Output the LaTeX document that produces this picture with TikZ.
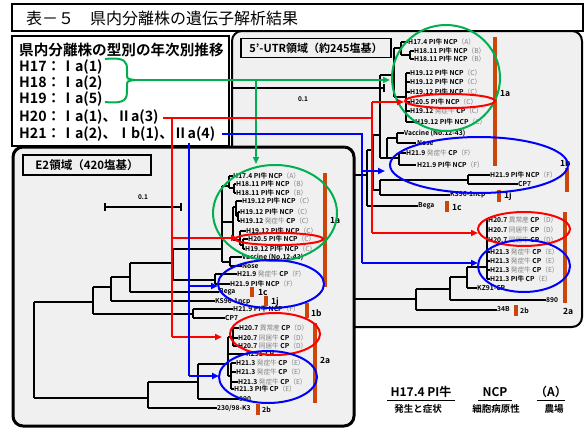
\documentclass[tikz,border=0pt]{standalone}
\usepackage{fontspec}
\setmainfont{Noto Sans CJK JP}[BoldFont={* Bold}]
\usetikzlibrary{arrows.meta}
\definecolor{gr}{RGB}{0,176,80}
\definecolor{rd}{RGB}{255,0,0}
\definecolor{bl}{RGB}{0,0,255}
\definecolor{barc}{RGB}{204,70,10}
\definecolor{panel}{RGB}{240,240,240}
\newcounter{nn}
\newcommand\lab[3]{\stepcounter{nn}\node[lbl] (n\thenn) at (#1,#2) {#3};}
\newcommand\gp[1]{{\mdseries\color{black!50}#1}}
\newcommand\hl[3]{\draw[tr] (#1,#3) -- (#2,#3);}
\newcommand\vl[3]{\draw[tr] (#1,#2) -- (#1,#3);}
\begin{document}
\begin{tikzpicture}[x=1pt,y=-1pt,
  tr/.style={line width=1.1pt,black},
  lbl/.style={anchor=west,inner sep=0pt,font=\bfseries\fontsize{6.7}{7}\selectfont},
  bars/.style={line width=4pt,draw=barc},
  barl/.style={anchor=west,inner sep=0pt,font=\bfseries\fontsize{8.5}{9}\selectfont},
  cl/.style={line width=2pt},
  arr/.style={-{Triangle[length=7pt,width=6pt]}},
  leg/.style={anchor=west,inner sep=0pt,font=\bfseries\fontsize{14.2}{15}\selectfont},
]
\useasboundingbox (0,0) rectangle (584,434);
\fill[white] (0,0) rectangle (584,434);
% title
\draw[line width=1.5pt] (12,4) rectangle (583,31);
\node[anchor=west,inner sep=0pt,font=\fontsize{16}{17}\selectfont] (title) at (26,18) {表－５　県内分離株の遺伝子解析結果};
% ================= right panel =================
\draw[line width=2pt,fill=panel,rounded corners=10pt] (232,31) rectangle (582,327);
\node[draw,line width=1.2pt,fill=panel,inner sep=3pt,minimum width=150pt,minimum height=19pt,font=\bfseries\fontsize{11}{12}\selectfont] (utr) at (316,48) {5’-UTR領域（約245塩基）};
\draw[tr] (232,88) -- (384,88); \draw[tr] (232,84) -- (232,92); \draw[tr] (384,84) -- (384,92);
\node[inner sep=0pt,font=\bfseries\fontsize{6.5}{7}\selectfont] (sc1) at (303,99) {0.1};
% right tree
\hl{345}{416}{299}\vl{345}{175}{299}\hl{345}{367}{175}
\vl{367}{150}{206}\hl{367}{418}{206}\hl{367}{373}{150}
\vl{373}{135}{190}\hl{373}{380}{190}\hl{373}{380}{135}
\vl{380}{180}{195}\hl{380}{468}{180}\hl{380}{450}{195}
\vl{468}{175}{184}\hl{468}{490}{175}\hl{468}{518}{184}
\vl{380}{75}{158}\hl{380}{394}{75}\hl{380}{387}{158}
\vl{387}{138}{158}\hl{387}{397}{138}\vl{397}{133}{143}\hl{397}{404}{133}\hl{397}{416}{143}
\hl{387}{399}{158}\vl{399}{153}{165}\hl{399}{406}{153}\hl{399}{416}{165}
\vl{394}{48}{97}\hl{394}{401}{48}\vl{401}{42}{55}\hl{401}{408}{42}\hl{401}{410}{55}
\vl{410}{51}{59}\hl{410}{414}{51}\hl{410}{414}{59}
\hl{394}{406}{97}\vl{406}{73}{122}
\hl{406}{410}{73}\hl{406}{410}{82}\hl{406}{410}{92}\hl{406}{410}{102}\hl{406}{410}{111}\hl{406}{415}{122}
\vl{416}{289}{310}\hl{416}{497}{310}\hl{416}{450}{289}
\vl{450}{277}{300}\hl{450}{546}{300}\hl{450}{467}{277}
\vl{467}{267}{288}\hl{467}{477}{288}\hl{467}{487}{267}
\vl{487}{220}{279}
\hl{487}{488}{220}\hl{487}{488}{230}\hl{487}{488}{240}\hl{487}{490}{252}\hl{487}{490}{261}\hl{487}{490}{270}\hl{487}{490}{279}
% right labels
\lab{408}{42}{H17.4 PI牛 NCP\gp{（A）}}
\lab{414}{51}{H18.11 PI牛 NCP\gp{（B）}}
\lab{414}{59}{H18.11 PI牛 NCP\gp{（B）}}
\lab{410}{73}{H19.12 PI牛 NCP\gp{（C）}}
\lab{410}{82}{H19.12 PI牛 NCP\gp{（C）}}
\lab{410}{92}{H19.12 PI牛 NCP\gp{（C）}}
\lab{410}{102}{H20.5 PI牛 NCP\gp{（C）}}
\lab{410}{111}{H19.12 \gp{発症牛} CP\gp{（C）}}
\lab{415}{122}{H19.12 PI牛 NCP\gp{（C）}}
\lab{404}{133}{Vaccine (No.12-43)}
\lab{417}{143}{Nose}
\lab{406}{153}{H21.9 \gp{発症牛} CP\gp{（F）}}
\lab{417}{165}{H21.9 PI牛 NCP\gp{（F）}}
\lab{490}{175}{H21.9 PI牛 NCP\gp{（F）}}
\lab{518}{184}{CP7}
\lab{450}{195}{KS96-1ncp}
\lab{418}{206}{Bega}
\lab{488}{220}{H20.7 \gp{異常産} CP\gp{（D）}}
\lab{488}{230}{H20.7 \gp{同居牛} CP\gp{（D）}}
\lab{488}{240}{H20.7 \gp{同居牛} CP\gp{（D）}}
\lab{490}{252}{H21.3 \gp{発症牛} CP\gp{（E）}}
\lab{490}{261}{H21.3 \gp{発症牛} CP\gp{（E）}}
\lab{490}{270}{H21.3 \gp{発症牛} CP\gp{（E）}}
\lab{490}{279}{H21.3 PI牛 CP\gp{（E）}}
\lab{477}{288}{KZ91-CP}
\lab{546}{300}{890}
\lab{497}{309}{34B}
% right bars
\draw[bars] (495,37) -- (495,166); \node[barl] (r1a) at (500,93) {1a};
\draw[bars] (567,168) -- (567,192); \node[barl] (r1b) at (560,163) {1b};
\draw[bars] (499,190) -- (499,202); \node[barl] (r1j) at (504,196) {1j};
\draw[bars] (447,201) -- (447,212); \node[barl] (r1c) at (452,207) {1c};
\draw[bars] (565,212) -- (565,303); \node[barl] (r2a) at (563,311) {2a};
\draw[bars] (516,305) -- (516,316); \node[barl,font=\bfseries\fontsize{7}{8}\selectfont] (r2b) at (520,311) {2b};
% ================= legend box =================
\draw[line width=1.5pt,fill=white] (12,36) rectangle (229,146);
\node[leg,font=\bfseries\fontsize{14.6}{15}\selectfont] (lh) at (19,50) {県内分離株の型別の年次別推移};
\node[leg] (l17) at (19,67) {H17：Ⅰa(1)};
\node[leg] (l18) at (19,83) {H18：Ⅰa(2)};
\node[leg] (l19) at (19,99) {H19：Ⅰa(5)};
\node[leg] (l20) at (19,117) {H20：Ⅰa(1)、Ⅱa(3)};
\node[leg] (l21) at (19,134) {H21：Ⅰa(2)、Ⅰb(1)、Ⅱa(4)};
% ================= E2 panel =================
\draw[line width=3pt,fill=panel,rounded corners=10pt] (13,147) rectangle (354,426);
\node[draw,line width=1.2pt,fill=panel,inner sep=3pt,minimum width=128pt,minimum height=20pt,font=\bfseries\fontsize{11.5}{12}\selectfont] (e2) at (87,165) {E2領域（420塩基）};
\draw[tr] (105,207) -- (181,207); \draw[tr] (105,203) -- (105,211); \draw[tr] (181,203) -- (181,211);
\node[inner sep=0pt,font=\bfseries\fontsize{6.5}{7}\selectfont] (sc2) at (143,197) {0.1};
% left tree
\vl{34}{302}{398}\hl{34}{93}{302}\vl{93}{287}{314}
\hl{93}{111}{287}\vl{111}{277}{301}
\hl{111}{130}{277}\vl{130}{263}{292}
\hl{130}{173}{263}\vl{173}{249}{280}
\hl{173}{222}{249}\vl{222}{186}{262}
\hl{222}{229}{186}\vl{229}{176}{188}\hl{229}{233}{176}\hl{229}{234}{188}\vl{234}{184}{193}\hl{234}{236}{184}\hl{234}{236}{193}
\hl{222}{233}{222}\vl{233}{207}{240}
\hl{233}{236}{207}\vl{236}{201}{216}\hl{236}{242}{201}\hl{236}{238}{216}\vl{238}{212}{221}\hl{238}{240}{212}\hl{238}{240}{221}
\hl{233}{240}{240}\vl{240}{231}{245}\hl{240}{246}{231}\hl{240}{243}{245}\vl{243}{239}{249}\hl{243}{248}{239}\hl{243}{245}{249}
\hl{222}{230}{262}\vl{230}{257}{266}\hl{230}{242}{257}\hl{230}{242}{266}
\hl{173}{215}{280}\vl{215}{274}{284}\hl{215}{237}{274}\hl{215}{230}{284}
\hl{130}{219}{292}
\hl{111}{215}{301}
\hl{93}{193}{314}\vl{193}{309}{318}\hl{193}{233}{309}\hl{193}{225}{318}
\hl{34}{148}{398}\vl{148}{382}{408}\hl{148}{217}{408}\hl{148}{198}{382}
\vl{198}{364}{399}\hl{198}{239}{399}\hl{198}{228}{364}
\vl{228}{337}{376}\hl{228}{233}{337}\vl{233}{328}{346}\hl{233}{239}{328}\hl{233}{238}{338}\hl{233}{238}{346}
\hl{228}{246}{354}\hl{228}{231}{376}\vl{231}{363}{389}
\hl{231}{236}{363}\hl{231}{236}{372}\hl{231}{238}{382}\hl{231}{234}{389}
% left labels
\lab{233}{176}{H17.4 PI牛 NCP\gp{（A）}}
\lab{236}{184}{H18.11 PI牛 NCP\gp{（B）}}
\lab{236}{193}{H18.11 PI牛 NCP\gp{（B）}}
\lab{242}{201}{H19.12 PI牛 NCP\gp{（C）}}
\lab{240}{212}{H19.12 PI牛 NCP\gp{（C）}}
\lab{240}{221}{H19.12 \gp{発症牛} CP\gp{（C）}}
\lab{246}{231}{H19.12 PI牛 NCP\gp{（C）}}
\lab{248}{239}{H20.5 PI牛 NCP\gp{（C）}}
\lab{245}{249}{H19.12 PI牛 NCP\gp{（C）}}
\lab{242}{257}{Vaccine (No.12-43)}
\lab{242}{266}{Nose}
\lab{237}{274}{H21.9 \gp{発症牛} CP\gp{（F）}}
\lab{230}{284}{H21.9 PI牛 NCP\gp{（F）}}
\lab{219}{292}{Bega}
\lab{215}{302}{KS96-1ncp}
\lab{233}{309}{H21.9 PI牛 NCP\gp{（F）}}
\lab{225}{318}{CP7}
\lab{239}{328}{H20.7 \gp{異常産} CP\gp{（D）}}
\lab{238}{338}{H20.7 \gp{同居牛} CP\gp{（D）}}
\lab{238}{346}{H20.7 \gp{同居牛} CP\gp{（D）}}
\lab{246}{354}{KZ91-CP}
\lab{236}{363}{H21.3 \gp{発症牛} CP\gp{（E）}}
\lab{236}{372}{H21.3 \gp{発症牛} CP\gp{（E）}}
\lab{238}{382}{H21.3 \gp{発症牛} CP\gp{（E）}}
\lab{234}{389}{H21.3 PI牛 CP\gp{（E）}}
\lab{239}{399}{890}
\lab{217}{408}{230/98-K3}
% left bars
\draw[bars] (325,173) -- (325,287); \node[barl] (l1a) at (330,220) {1a};
\draw[bars] (252,287) -- (252,297); \node[barl] (l1c) at (258,292) {1c};
\draw[bars] (266,296) -- (266,306); \node[barl] (l1j) at (271,302) {1j};
\draw[bars] (307,303) -- (307,318); \node[barl] (l1b) at (311,313) {1b};
\draw[bars] (315,323) -- (315,403); \node[barl] (l2a) at (320,360) {2a};
\draw[bars] (258,404) -- (258,415); \node[barl,font=\bfseries\fontsize{7}{8}\selectfont] (l2b) at (262,410) {2b};
% ================= ellipses =================
\draw[gr,cl] (446,78) ellipse [x radius=54, y radius=53];
\draw[rd,cl] (450,101) ellipse [x radius=45, y radius=7];
\draw[bl,cl] (479,165) ellipse [x radius=89, y radius=28];
\draw[rd,cl] (524,229) ellipse [x radius=46, y radius=17];
\draw[bl,cl] (524,266) ellipse [x radius=46, y radius=26];
\draw[gr,cl] (275,213) ellipse [x radius=62, y radius=48];
\draw[rd,cl] (279,239) ellipse [x radius=44, y radius=6];
\draw[bl,cl] (271,284) ellipse [x radius=53, y radius=24];
\draw[rd,cl] (275,334) ellipse [x radius=45, y radius=21];
\draw[bl,cl] (268,377) ellipse [x radius=49, y radius=26];
% ================= connectors =================
\coordinate (gtip) at (135,80);
\coordinate (gj) at (256,80);
\draw[gr,cl] (105,59) .. controls (126,57) and (127,62) .. (127,70) -- (127,74) .. controls (127,79) .. (gtip);
\draw[gr,cl] (105,102) .. controls (126,104) and (127,99) .. (127,90) -- (127,86) .. controls (127,81) .. (gtip);
\draw[gr,cl,arr] (gtip) -- (390,80);
\draw[gr,cl,arr] (gj) -- (256,164);
\coordinate (rs) at (163,118);
\coordinate (rj1) at (172,118);
\coordinate (rj2) at (372,118);
\draw[rd,cl] (rs) -- (rj2);
\draw[rd,cl] (372,102) -- (372,233);
\draw[rd,cl,arr] (372,102) -- (404,102);
\draw[rd,cl,arr] (372,233) -- (478,233);
\draw[rd,cl] (rj1) -- (172,337);
\draw[rd,cl,arr] (172,238) -- (238,238);
\draw[rd,cl,arr] (172,337) -- (222,337);
\coordinate (bs) at (222,134);
\draw[bl,cl] (bs) -- (362,134) -- (362,263);
\draw[bl,cl,arr] (362,171) -- (385,171);
\draw[bl,cl,arr] (362,263) -- (478,263);
\draw[bl,cl] (189,143) -- (189,376);
\draw[bl,cl,arr] (189,286) -- (218,286);
\draw[bl,cl,arr] (189,376) -- (219,376);
% ================= bottom legend =================
\node[inner sep=0pt,font=\bfseries\fontsize{12}{13}\selectfont] (k1) at (421,392) {H17.4 PI牛};
\node[inner sep=0pt,font=\bfseries\fontsize{12}{13}\selectfont] (k2) at (495,392) {NCP};
\node[inner sep=0pt,font=\bfseries\fontsize{12}{13}\selectfont] (k3) at (551,392) {（A）};
\draw[line width=1pt] (387,400) -- (455,400);
\draw[line width=1pt] (478,400) -- (512,400);
\draw[line width=1pt] (537,400) -- (565,400);
\node[inner sep=0pt,font=\bfseries\fontsize{9.5}{10}\selectfont] (k4) at (418,409) {発生と症状};
\node[inner sep=0pt,font=\bfseries\fontsize{9.5}{10}\selectfont] (k5) at (496,409) {細胞病原性};
\node[inner sep=0pt,font=\bfseries\fontsize{9.5}{10}\selectfont] (k6) at (554,409) {農場};
\end{tikzpicture}
\end{document}
